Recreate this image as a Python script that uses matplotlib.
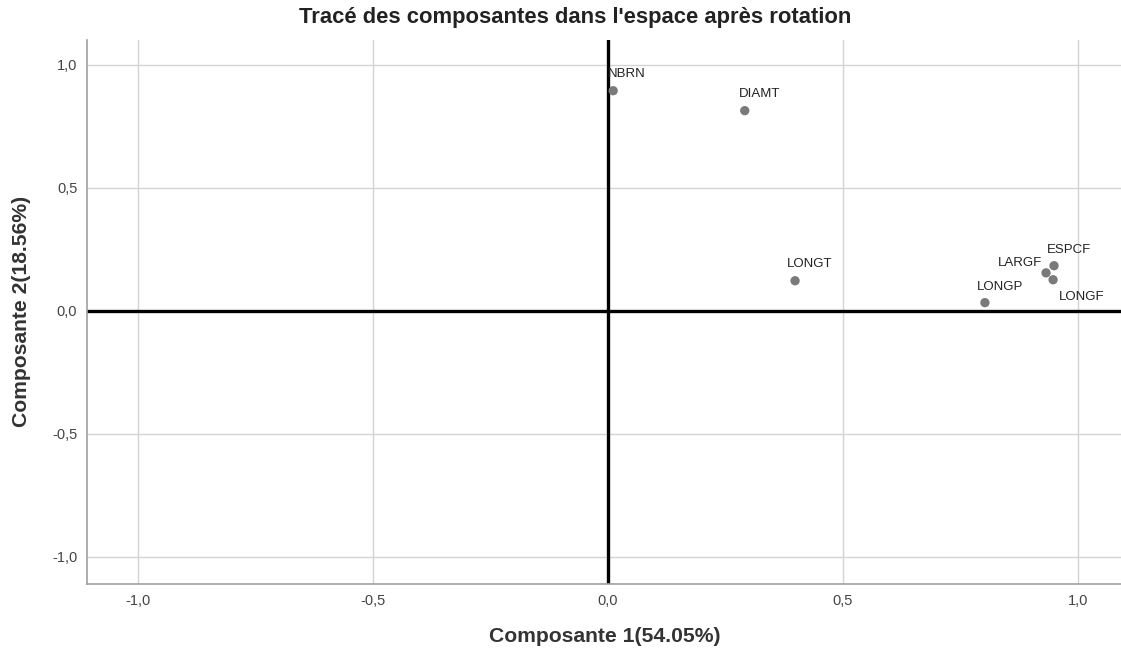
import matplotlib
matplotlib.use("Agg")
import matplotlib.pyplot as plt

plt.rcParams['font.family'] = ['Liberation Sans', 'DejaVu Sans']

# variables et coordonnees apres rotation
noms = ["NBRN", "DIAMT", "LONGT", "LONGP", "LARGF", "ESPCF", "LONGF"]
comp1 = [0.011, 0.291, 0.398, 0.802, 0.932, 0.949, 0.947]
comp2 = [0.894, 0.813, 0.122, 0.033, 0.154, 0.183, 0.126]
ticks = [-1.0, -0.5, 0.0, 0.5, 1.0]
tick_labels = ["-1,0", "-0,5", "0,0", "0,5", "1,0"]

# decalage des etiquettes (points) et alignement
decal = {"NBRN": (-4, 8, "left", "bottom"), "DIAMT": (-4, 8, "left", "bottom"),
         "LONGT": (-6, 8, "left", "bottom"), "LONGP": (-6, 7, "left", "bottom"),
         "LARGF": (-3, 3, "right", "bottom"), "ESPCF": (-5, 7, "left", "bottom"),
         "LONGF": (4, -8, "left", "top")}

fig = plt.figure(figsize=(11.21, 6.55), dpi=100)
ax = fig.add_axes([87/1121, 71/655, 1034/1121, 544/655])

ax.set_xlim(-1.1085, 1.0915)
ax.set_ylim(-1.11, 1.10)
ax.set_xticks(ticks)
ax.set_xticklabels(tick_labels)
ax.set_yticks(ticks)
ax.set_yticklabels(tick_labels)
ax.grid(True, color="#d4d4d4", linewidth=1.0)
ax.set_axisbelow(True)
ax.tick_params(length=0, labelsize=10.5, labelcolor="#444444", pad=7)

for s in ["top", "right"]:
    ax.spines[s].set_visible(False)
for s in ["left", "bottom"]:
    ax.spines[s].set_color("#a0a0a0")
    ax.spines[s].set_linewidth(1.2)

ax.axhline(0, color="black", linewidth=2.4, zorder=2)
ax.axvline(0, color="black", linewidth=2.4, zorder=2)

ax.scatter(comp1, comp2, s=45, color="#7a7a7a", zorder=3, edgecolors="none")
for n, x, y in zip(noms, comp1, comp2):
    dx, dy, ha, va = decal[n]
    ax.annotate(n, (x, y), xytext=(dx, dy), textcoords="offset points",
                fontsize=9.5, color="#222222", ha=ha, va=va)

fig.text(575/1121, 1 - 18/655, "Tracé des composantes dans l'espace après rotation",
         ha="center", va="center", fontsize=15.8, fontweight="bold", color="#222222")
fig.text(605/1121, 1 - 636/655, "Composante 1(54.05%)", ha="center", va="center",
         fontsize=15.2, fontweight="bold", color="#333333")
fig.text(22/1121, 1 - 311/655, "Composante 2(18.56%)", ha="center", va="center",
         rotation=90, fontsize=15.2, fontweight="bold", color="#333333")

fig.savefig("out.png", dpi=100)
